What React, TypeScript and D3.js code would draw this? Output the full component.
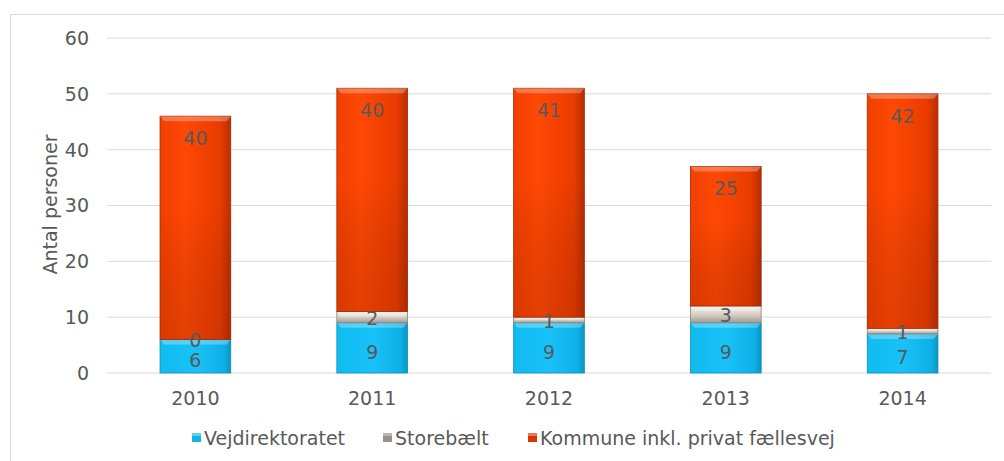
import React from "react";
import * as d3 from "d3";

const years = ["2010", "2011", "2012", "2013", "2014"];
const vejdirektoratet = [6, 9, 9, 9, 7];
const storebaelt = [0, 2, 1, 3, 1];
const kommune = [40, 40, 41, 25, 42];
const seriesNames = ["Vejdirektoratet", "Storebælt", "Kommune inkl. privat fællesvej"];
const yTicks = [0, 10, 20, 30, 40, 50, 60];

const W = 1004;
const H = 461;
const FONT = "'DejaVu Sans', Verdana, sans-serif";
const TXT = "#595959";
const FS = 19;

export default function App() {
  const x = d3.scaleBand<string>().domain(years).range([107, 991]).paddingInner(0.6).paddingOuter(0.3);
  const y = d3.scaleLinear().domain([0, 60]).range([373, 38]);

  const rows = years.map((yr, i) => ({ yr, v: vejdirektoratet[i], s: storebaelt[i], k: kommune[i] }));
  const stack = d3.stack<any>().keys(["v", "s", "k"])(rows as any);
  const fills = ["url(#gBlue)", "url(#gGray)", "url(#gRed)"];
  const strokes = ["#0E8FB8", "#8C8278", "#A82800"];
  const legendX = [192, 383, 528];
  const legendFill = ["#12B4E8", "#9A9088", "#D83400"];

  return (
    <svg width={W} height={H} style={{ position: "absolute", left: 0, top: 0, background: "#fff" }}>
      <defs>
        <linearGradient id="gBlue" x1="0" x2="1" y1="0" y2="0">
          <stop offset="0" stopColor="#10BBF0" />
          <stop offset="0.5" stopColor="#18C2F8" />
          <stop offset="0.9" stopColor="#0EB0E6" />
          <stop offset="1" stopColor="#0A95C4" />
        </linearGradient>
        <linearGradient id="gGray" x1="0" x2="0" y1="0" y2="1">
          <stop offset="0" stopColor="#F4F0EC" />
          <stop offset="0.5" stopColor="#D8D0C8" />
          <stop offset="1" stopColor="#A49A90" />
        </linearGradient>
        <linearGradient id="gRed" x1="0" x2="1" y1="0" y2="0">
          <stop offset="0" stopColor="#F04000" />
          <stop offset="0.35" stopColor="#FF4804" />
          <stop offset="0.85" stopColor="#E83C00" />
          <stop offset="1" stopColor="#B82E00" />
        </linearGradient>
        <linearGradient id="gRedV" x1="0" x2="0" y1="0" y2="1">
          <stop offset="0" stopColor="#000" stopOpacity="0" />
          <stop offset="0.4" stopColor="#000" stopOpacity="0" />
          <stop offset="1" stopColor="#701800" stopOpacity="0.18" />
        </linearGradient>
      </defs>
      <rect x={10.5} y={14.5} width={1000} height={460} fill="none" stroke="#D9D9D9" />
      {yTicks.map((t) => (
        <g key={t}>
          <line x1={107} x2={991} y1={y(t)} y2={y(t)} stroke="#D9D9D9" strokeWidth={1} />
          <text x={89} y={y(t)} dy="0.36em" textAnchor="end" fontFamily={FONT} fontSize={FS} fill={TXT}>
            {t}
          </text>
        </g>
      ))}
      <text
        transform={`translate(50,${(y(0) + y(60)) / 2 - 1}) rotate(-90)`}
        textAnchor="middle"
        dy="0.36em"
        fontFamily={FONT}
        fontSize={FS}
        fill={TXT}
      >
        Antal personer
      </text>
      {stack.map((layer, li) =>
        layer.map((d: any, i: number) => {
          const bx = x(years[i])!;
          const bw = x.bandwidth();
          const y0 = y(d[0]);
          const y1 = y(d[1]);
          const h = y0 - y1;
          const bev = Math.min(5, h / 2);
          return (
            <g key={`${li}-${i}`}>
              {h > 0 && (
                <>
                  <rect x={bx} y={y1} width={bw} height={h} fill={fills[li]} stroke={strokes[li]} strokeWidth={0.8} />
                  {li === 2 && <rect x={bx} y={y1} width={bw} height={h} fill="url(#gRedV)" />}
                  <polygon
                    points={`${bx},${y1} ${bx + bw},${y1} ${bx + bw - 4},${y1 + bev} ${bx + 4},${y1 + bev}`}
                    fill="#fff"
                    opacity={0.28}
                  />
                </>
              )}
            </g>
          );
        })
      )}
      {stack.map((layer, li) =>
        layer.map((d: any, i: number) => {
          const cx = x(years[i])! + x.bandwidth() / 2;
          const val = d[1] - d[0];
          let ly: number;
          if (li === 2) ly = y(d[1]) + 22;
          else if (li === 0) ly = (y(d[0]) + y(d[1])) / 2 + 4;
          else ly = (y(d[0]) + y(d[1])) / 2 + 1;
          return (
            <text
              key={`l${li}-${i}`}
              x={cx}
              y={ly}
              dy="0.36em"
              textAnchor="middle"
              fontFamily={FONT}
              fontSize={FS}
              fill={TXT}
            >
              {val}
            </text>
          );
        })
      )}
      {years.map((yr) => (
        <text
          key={yr}
          x={x(yr)! + x.bandwidth() / 2}
          y={398}
          dy="0.36em"
          textAnchor="middle"
          fontFamily={FONT}
          fontSize={FS}
          fill={TXT}
        >
          {yr}
        </text>
      ))}
      {seriesNames.map((n, i) => (
        <g key={n}>
          <rect x={legendX[i]} y={433} width={9} height={9} fill={legendFill[i]} />
          <rect x={legendX[i]} y={433} width={9} height={3} fill="#fff" opacity={0.35} />
          <text x={legendX[i] + 12} y={438} dy="0.36em" fontFamily={FONT} fontSize={FS} fill={TXT}>
            {n}
          </text>
        </g>
      ))}
    </svg>
  );
}
